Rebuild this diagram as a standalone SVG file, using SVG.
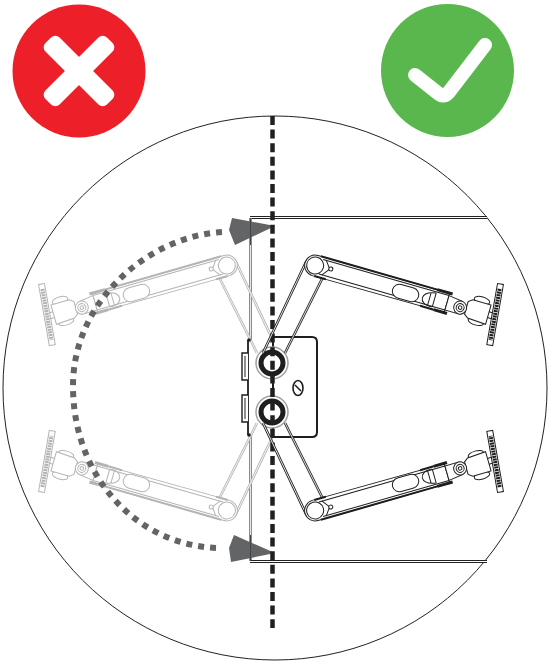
<svg xmlns="http://www.w3.org/2000/svg" xmlns:xlink="http://www.w3.org/1999/xlink" width="555" height="662" viewBox="0 0 555 662">
<style>
.o{fill:#fff;stroke:currentColor;stroke-width:1}
.n{fill:none;stroke:currentColor;stroke-width:1}
.t{fill:none;stroke:currentColor;stroke-width:2}
.e{fill:none;stroke:currentColor;stroke-width:3}
.c{fill:none;stroke:currentColor;stroke-width:2.600}
.w{fill:none;stroke:#fff;stroke-width:0.900}
.h{fill:none;stroke:currentColor;stroke-width:4;stroke-dasharray:2 0.700}
.dark{color:#1e1e1e}
.grey{color:#b4b4b6}
</style>
<defs>
<g id="link">
<path class="c" d="M-9,-4L-52,87M8,11L-30,87"/>
<path class="w" d="M-9,-4L-52,87M8,11L-30,87"/>
</g>
<g id="arm">
<path class="o" d="M0,-11L137,-11L137,9L0,10A10.500,10.500 0 0 1 0,-11Z"/>
<circle class="n" cx="0" cy="-0.500" r="8.500"/>
<path class="n" d="M6,-8.500L137,-8.500M6,6.500L137,6.500"/>
<path class="t" d="M3,-11L124,-11M2,9.800L14,9.800M112,9.300L126,9.300"/>
<path class="e" d="M124,-11L140,-11M126,9.300L140,9.300"/>
<path class="n" d="M9,-9L15,-1L9,7"/>
<circle class="o" cx="16" cy="-1.500" r="2"/>
<rect class="o" x="81" y="-6" width="27" height="14" rx="7"/>
<path class="n" d="M124,-7.500C115,-6 112,-2 112,1C112,4 115,8 124,7M119,-6.500L119,7M124,-7.500L124,7"/>
<path class="o" d="M137,-8.500L152,-6.500L152,6.500L137,6.500Z"/>
<ellipse class="o" cx="170" cy="-13" rx="8" ry="3.500"/>
<ellipse class="o" cx="170" cy="9" rx="8" ry="3.500"/>
<path class="o" d="M161,-11L180,-11L180,9L161,8L157,5L157,-8Z"/>
<path class="n" d="M180,-4L185,-4M180,2L185,2"/>
<circle class="o" cx="151" cy="0" r="6.500"/>
<circle class="n" cx="151" cy="0" r="4"/>
<circle class="n" cx="151" cy="0" r="1.800"/>
<g transform="translate(186.500,-3) rotate(-6)">
<rect class="o" x="-3" y="-31" width="6" height="62"/>
<path class="h" d="M0,-26V26"/>
</g>
</g>
</defs>

<circle id="boundary" cx="275" cy="388" r="272" fill="#fff" stroke="#222" stroke-width="1"/>

<g id="wrong-icon">
<circle cx="79" cy="71" r="66.500" fill="#ed2029"/>
<rect x="35.500" y="61" width="87" height="20" rx="6" fill="#fff" transform="rotate(45 79 71)"/>
<rect x="35.500" y="61" width="87" height="20" rx="6" fill="#fff" transform="rotate(-45 79 71)"/>
</g>
<g id="right-icon">
<circle cx="447.500" cy="70.500" r="66.500" fill="#5ab74d"/>
<path d="M415,75L439,94Q444,98 449,92L485,45" fill="none" stroke="#fff" stroke-width="14" stroke-linecap="round" stroke-linejoin="round"/>
</g>

<g id="desk">
<path d="M250,217.500H487M250,561.500H487" fill="none" stroke="#222" stroke-width="3"/>
<path d="M250,217.500H487M250,561.500H487" fill="none" stroke="#fff" stroke-width="1"/>
<path d="M250.500,218V340M250.500,436V561" fill="none" stroke="#8c8c8e" stroke-width="3"/>
<path d="M250.500,218V340M250.500,436V561" fill="none" stroke="#fff" stroke-width="0.800"/>
</g>

<g id="connectors">
<g class="grey">
<use xlink:href="#link" href="#link" transform="translate(227,266) scale(-1,1)"/>
<use xlink:href="#link" href="#link" transform="translate(227,510) scale(-1,-1)"/>
</g>
</g>

<g id="arm-left-top" class="grey"><use xlink:href="#arm" href="#arm" transform="translate(227,266) scale(-1,1) rotate(16)"/></g>
<g id="arm-left-bottom" class="grey"><use xlink:href="#arm" href="#arm" transform="translate(227,510) scale(-1,-1) rotate(16)"/></g>

<g id="arrows">
<path d="M222,232C150,236 72,300 73,388C74,480 140,548 222,548" fill="none" stroke="#636466" stroke-width="6" stroke-dasharray="6 6"/>
<path d="M232,218L275,226L235,245L229,230Z" fill="#636466"/>
<path d="M234,535L275,553L231,562L229,548Z" fill="#636466"/>
<path d="M250,216.500H275M250,560.500H275" fill="none" stroke="#222" stroke-width="1"/>
<path d="M250.500,218V245M250.500,535V561" fill="none" stroke="#444" stroke-width="1"/>
</g>

<g id="mount" class="dark">
<path d="M273,337H312Q317,337 317,342V432Q317,437 312,437H273Z" fill="#fff" stroke="#1e1e1e" stroke-width="2"/>
<path d="M248,340V435" fill="none" stroke="#1e1e1e" stroke-width="1.800"/>
<path d="M248,353H242V380H248M248,395H242V422H248" fill="#fff" stroke="#1e1e1e" stroke-width="1.400"/>
<path class="n" d="M245,356V377M245,398V419"/>
<circle cx="249" cy="340" r="1.800" fill="#1e1e1e"/>
<circle cx="249" cy="435" r="1.800" fill="#1e1e1e"/>
<ellipse cx="298" cy="388" rx="5" ry="7.500" fill="#fff" stroke="#1e1e1e" stroke-width="1.600"/>
<path d="M295,385L301,391" stroke="#1e1e1e" stroke-width="1.500"/>
<g id="post-top">
<circle cx="272" cy="363" r="16" fill="#fff" stroke="#a0a0a0" stroke-width="1.500"/>
<circle cx="272" cy="363" r="11" fill="#fff" stroke="#1e1e1e" stroke-width="5"/>
</g>
<g id="post-bottom">
<circle cx="272" cy="412" r="16" fill="#fff" stroke="#a0a0a0" stroke-width="1.500"/>
<circle cx="272" cy="412" r="11" fill="#fff" stroke="#1e1e1e" stroke-width="5"/>
</g>
</g>

<g id="centre-line">
<path d="M272.500,116V628" fill="none" stroke="#231f20" stroke-width="4.500" stroke-dasharray="9 4.600"/>
</g>

<g id="connectors-front" class="dark">
<use xlink:href="#link" href="#link" transform="translate(315,266)"/>
<use xlink:href="#link" href="#link" transform="translate(315,510) scale(1,-1)"/>
</g>
<g id="arm-right-top" class="dark"><use xlink:href="#arm" href="#arm" transform="translate(315,266) rotate(16)"/></g>
<g id="arm-right-bottom" class="dark"><use xlink:href="#arm" href="#arm" transform="translate(315,510) scale(1,-1) rotate(16)"/></g>
</svg>
